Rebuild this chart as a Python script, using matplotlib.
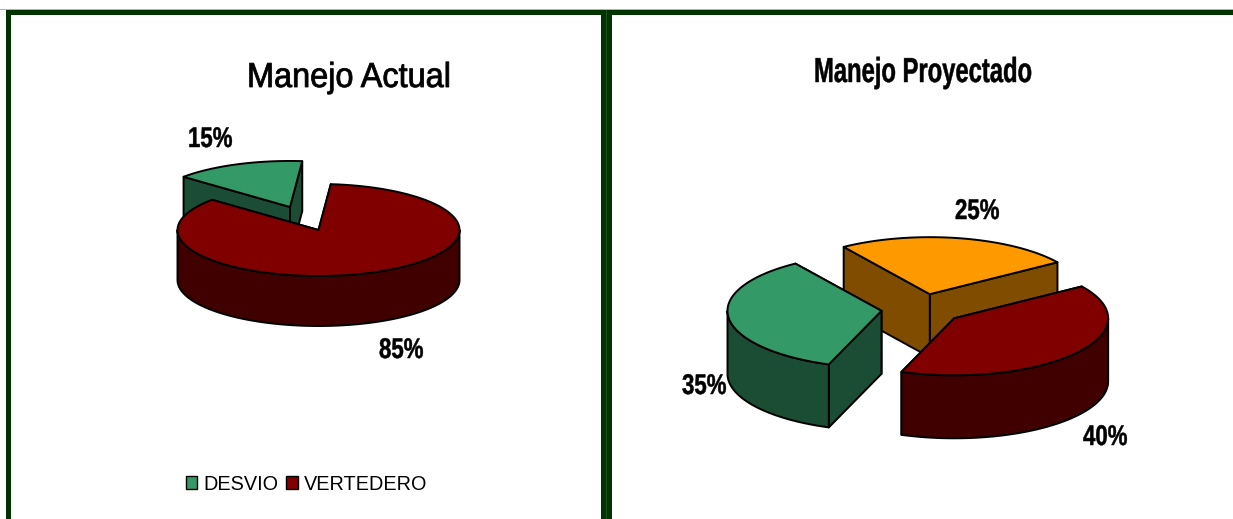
import numpy as np
import matplotlib
matplotlib.use('Agg')
import matplotlib.pyplot as plt
from matplotlib.patches import Patch, Rectangle
from matplotlib.patheffects import AbstractPathEffect
from matplotlib.transforms import Affine2D

# Values
actual_labels = ['DESVIO', 'VERTEDERO']
actual_values = [15, 85]
proyectado_values = [25, 35, 40]

GREEN = ('#339966', '#1A4D33')
RED = ('#800000', '#400000')
ORANGE = ('#FF9900', '#804D00')
FRAME = '#003300'

plt.rcParams['font.family'] = ['Liberation Sans', 'DejaVu Sans']


class Squeeze(AbstractPathEffect):
    # the reference uses a condensed Arial, so narrow the glyphs of the real text
    def __init__(self, sx, stroke=0.0):
        super().__init__()
        self.sx = sx
        self.stroke = stroke

    def draw_path(self, renderer, gc, tpath, affine, rgbFace=None):
        gc.set_linewidth(self.stroke)
        renderer.draw_path(gc, tpath, Affine2D().scale(self.sx, 1) + affine, rgbFace)


fig = plt.figure(figsize=(12.33, 5.19), dpi=100)
ax = fig.add_axes([0, 0, 1, 1])
# axes in image pixels, y going down
ax.set_xlim(0, 1233)
ax.set_ylim(519, 0)
ax.axis('off')


def face(xs, ys, color):
    ax.fill(xs, ys, facecolor=color, edgecolor='black', linewidth=1.4, joinstyle='round')


def pie3d(values, colors, cx, cy, rx, ry, depth, start, explode):
    # same idea as a pie chart, only squashed to an ellipse and given a wall
    fractions = np.array(values) / sum(values)
    edges = start + np.concatenate([[0], np.cumsum(fractions)]) * 360
    slices = []
    for i in range(len(values)):
        mid = np.radians((edges[i] + edges[i + 1]) / 2)
        px = cx + explode[i] * rx * np.cos(mid)
        py = cy - explode[i] * ry * np.sin(mid)
        slices.append((py, px, edges[i], edges[i + 1], colors[i]))
    # back slices first
    slices.sort(key=lambda s: s[0])

    for py, px, a0, a1, color in slices:
        t = np.radians(np.linspace(a0, a1, 200))
        ex = px + rx * np.cos(t)
        ey = py - ry * np.sin(t)
        # the two cut faces
        for j in [0, -1]:
            face([px, ex[j], ex[j], px], [py, ey[j], ey[j] + depth, py + depth], color[1])
        # outer wall, only the part facing us
        for low, high in [(180, 360), (540, 720)]:
            lo, hi = max(a0, low), min(a1, high)
            if lo < hi:
                w = np.radians(np.linspace(lo, hi, 200))
                wx = px + rx * np.cos(w)
                wy = py - ry * np.sin(w)
                face(np.concatenate([wx, wx[::-1]]), np.concatenate([wy, wy[::-1] + depth]), color[1])
        # top
        face(np.concatenate([[px], ex]), np.concatenate([[py], ey]), color[0])


def label(x, y, s, size=20.5, sx=0.78, weight='bold', stroke=0.35):
    t = ax.text(x, y, s, fontsize=size, fontweight=weight, ha='left', va='baseline', color='black')
    t.set_path_effects([Squeeze(sx, stroke)])


# Frame of the two panels, it runs off the bottom and the right of the picture
ax.plot([0, 1233], [9, 9], color='#b0b0b0', linewidth=0.7)
ax.add_patch(Rectangle((6, 9.5), 1227, 5.8, color=FRAME, linewidth=0))
ax.add_patch(Rectangle((6, 9.5), 5.4, 510, color=FRAME, linewidth=0))
ax.add_patch(Rectangle((601, 9.5), 10.6, 510, color=FRAME, linewidth=0))
ax.plot([606.3, 606.3], [9.5, 519], color='#2f5f2f', linewidth=0.5)

# Left chart
pie3d(actual_values, [GREEN, RED], 318.5, 230, 141, 46, 50, 85, [0.54, 0])
label(247, 87, 'Manejo Actual', size=25, sx=0.935, weight='normal', stroke=0.6)
label(188, 147, '%d%%' % actual_values[0])
label(379, 358, '%d%%' % actual_values[1])

handles = [Patch(facecolor=GREEN[0], edgecolor='black'), Patch(facecolor=RED[0], edgecolor='black')]
ax.legend(handles, actual_labels, loc='center', bbox_to_anchor=(306.5, 484), bbox_transform=ax.transData, ncol=2,
          frameon=False, fontsize=14.3, handlelength=0.56, handleheight=0.68, handletextpad=0.3, columnspacing=0.42,
          borderpad=0, labelspacing=0)

# Right chart
pie3d(proyectado_values, [ORANGE, GREEN, RED], 922, 309, 154, 57, 63, 34, [0.265, 0.265, 0.265])
label(814, 82, 'Manejo Proyectado', size=25, sx=0.685)
label(955, 219, '%d%%' % proyectado_values[0])
label(682, 394, '%d%%' % proyectado_values[1])
label(1083, 445, '%d%%' % proyectado_values[2])

fig.savefig('out.png', dpi=100)
